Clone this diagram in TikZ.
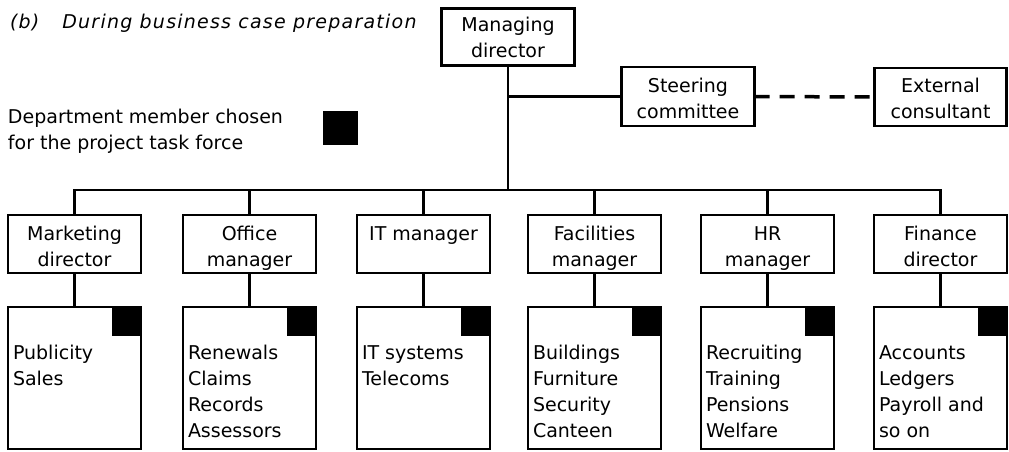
\documentclass[tikz,border=0pt]{standalone}
\usepackage{fontspec}
\setmainfont{DejaVu Sans}
\newfontfamily\titlefont[LetterSpace=6.5]{DejaVu Sans}
\newcommand\dfont{\fontsize{19}{26}\selectfont}
\begin{document}
\begin{tikzpicture}[x=1pt,y=-1pt,
  box/.style={draw, line width=2.4pt, inner sep=0pt, outer sep=0pt, minimum width=133pt},
  topbox/.style={box, minimum height=57.5pt},
  lowbox/.style={box, minimum height=141.5pt},
  mdbox/.style={box, line width=3.2pt, minimum width=133pt, minimum height=57pt},
  txt/.style={font=\dfont, inner sep=0pt, outer sep=0pt},
  member/.style={fill=black, draw=none, inner sep=0pt, outer sep=0pt, minimum size=28pt},
  conn/.style={line width=2.3pt},
  ext/.style={line width=3.5pt, dash pattern=on 15pt off 10pt}]
\useasboundingbox (0,0) rectangle (1009,452);

% title and legend
\node[inner sep=0pt, outer sep=0pt, anchor=base west, font=\titlefont\fontsize{19}{24}\selectfont\itshape] (title) at (10,29) {(b)\hspace{23pt}During business case preparation};
\node[txt, anchor=north west, align=left] (legend) at (8,109.5) {Department member chosen\\for the project task force};
\node[member, minimum width=35pt, minimum height=34pt] (legsq) at (340.5,128) {};

% top of hierarchy
\node[mdbox] (md) at (508,37) {};
\node[txt, anchor=north, align=center] at (508,17.5) {Managing\\director};
\node[topbox, minimum height=58.5pt] (steer) at (688,96.5) {};
\node[txt, anchor=north, align=center] at (688,78) {Steering\\committee};
\node[topbox, minimum height=58.5pt, minimum width=132pt] (ext) at (940.5,97) {};
\node[txt, anchor=north, align=center] at (940.5,78) {External\\consultant};

\coordinate (bar) at (0,190);
\draw[conn] (md.south) -- (md.south |- bar);
\draw[conn] (md.south |- steer.west) -- (steer.west);
\draw[ext] (steer.east) -- (ext.west);

% departments
\foreach \i/\l/\a/\b in {
  1/7/{Marketing\\director}/{Publicity\\Sales},
  2/182/{Office\\manager}/{Renewals\\Claims\\Records\\Assessors},
  3/356/{IT manager}/{IT systems\\Telecoms},
  4/527/{Facilities\\manager}/{Buildings\\Furniture\\Security\\Canteen},
  5/700/{HR\\manager}/{Recruiting\\Training\\Pensions\\Welfare},
  6/873/{Finance\\director}/{Accounts\\Ledgers\\Payroll and\\so on}} {
  \node[topbox] (t\i) at (\l+67.5,244) {};
  \node[txt, anchor=north, align=center] at (\l+67.5,226.5) {\a};
  \node[lowbox] (b\i) at (\l+67.5,378) {};
  \node[member, anchor=north east] (s\i) at ([xshift=-1.2pt,yshift=-1.2pt]b\i.north east) {};
  \node[txt, anchor=north west, align=left] at (\l+6,345.5) {\b};
  \draw[conn] (t\i.south) -- (b\i.north);
  \draw[conn] (t\i.north) -- (t\i.north |- bar);
}
\draw[conn] ([xshift=-1.15pt]t1.north |- bar) -- ([xshift=1.15pt]t6.north |- bar);
\end{tikzpicture}
\end{document}
